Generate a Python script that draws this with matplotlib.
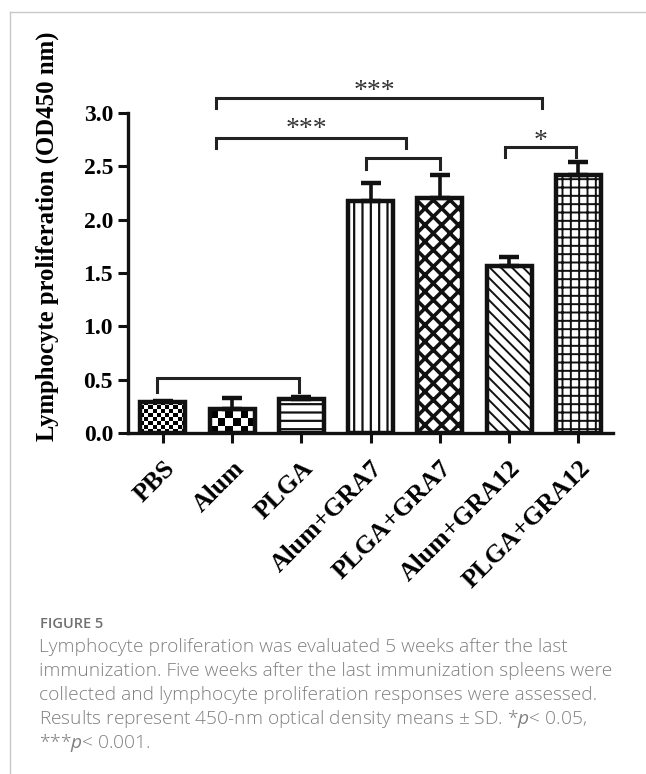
import numpy as np
import matplotlib
matplotlib.use("Agg")
import matplotlib.pyplot as plt
from matplotlib.lines import Line2D

groups = ["PBS", "Alum", "PLGA", "Alum+GRA7", "PLGA+GRA7", "Alum+GRA12", "PLGA+GRA12"]
means = [0.296, 0.227, 0.32, 2.173, 2.198, 1.568, 2.416]
sd = [0.01, 0.10, 0.02, 0.172, 0.222, 0.078, 0.119]
patterns = ["fine_checker", "checker", "--", "||", "xx", "\\\\\\", "++"]

# significance brackets: (x_left, x_right, y, leg_bottom)
brackets = [
    (-0.08, 1.96, 0.515, 0.389),
    (2.94, 4.0, 2.573, 2.473),
    (4.94, 5.96, 2.682, 2.588),
    (0.76, 3.51, 2.760, 2.667),
    (0.76, 5.48, 3.134, 3.041),
]
stars = [(3.06, 3.14, "***"), (2.07, 2.78, "***"), (5.45, 2.67, "*")]

caption_title = "FIGURE 5"
caption_lines = [
    "Lymphocyte proliferation was evaluated 5 weeks after the last",
    "immunization. Five weeks after the last immunization spleens were",
    "collected and lymphocyte proliferation responses were assessed.",
    "Results represent 450-nm optical density means \u00b1 SD. *$\\it{p}$< 0.05,",
    "***$\\it{p}$< 0.001.",
]

plt.rcParams["mathtext.fontset"] = "custom"
plt.rcParams["mathtext.rm"] = "Open Sans"
plt.rcParams["mathtext.it"] = "Open Sans:italic"

W, H = 646, 774
fig = plt.figure(figsize=(W / 100, H / 100), dpi=100)
ax = fig.add_axes([128.3 / W, 1 - 433.3 / H, 484.7 / W, (433.3 - 112.7) / H])

x = np.arange(len(groups))
serif = "Liberation Serif"

hatch_lw = {"--": 1.6, "||": 1.6, "xx": 2.6, "\\\\\\": 1.4, "++": 1.4}
bars = ax.bar(x, means, width=0.65, color="white", edgecolor="#111111", linewidth=3.2, zorder=2)
for b, pat in zip(bars, patterns):
    if pat in hatch_lw:
        b.set_hatch(pat)
        try:
            b.set_hatch_linewidth(hatch_lw[pat])
        except AttributeError:
            plt.rcParams["hatch.linewidth"] = 1.6
    else:
        # checkerboard fill clipped to the bar
        b.set_facecolor("none")
        cw, ch = (0.058, 0.037) if pat == "fine_checker" else (0.105, 0.068)
        bx, bw, bh = b.get_x(), b.get_width(), b.get_height()
        nx = max(int(round(bw / cw)), 1)
        ny = max(int(np.ceil(bh / ch)), 1)
        ii, jj = np.indices((ny, nx))
        board = (ii + jj) % 2
        im = ax.imshow(board, cmap="gray", interpolation="nearest", aspect="auto",
                       extent=(bx, bx + bw, 0, ny * ch), origin="lower", zorder=1.5)
        im.set_clip_path(b)

ax.errorbar(x, means, yerr=[np.zeros(len(sd)), sd], fmt="none", ecolor="#111111",
            elinewidth=2.6, capsize=7.5, capthick=3.2, zorder=3)

for x0, x1, y, yl in brackets:
    ax.plot([x0, x0, x1, x1], [yl, y, y, yl], color="#222222", lw=2.2,
            solid_joinstyle="miter", clip_on=False, zorder=4)
for sx, sy, s in stars:
    ax.text(sx, sy, s, ha="center", va="baseline", fontsize=20, family=serif,
            color="#333333", clip_on=False)

ax.set_xlim(-0.5, 6.5)
ax.set_ylim(0, 3.0)
ax.set_yticks(np.arange(0, 3.01, 0.5))
ax.set_yticklabels([f"{v:.1f}" for v in np.arange(0, 3.01, 0.5)],
                   fontsize=17, fontweight="bold", family=serif)
ax.set_xticks(x)
ax.set_xticklabels(groups, rotation=45, ha="right", rotation_mode="anchor",
                   fontsize=18.5, fontweight="bold", family=serif)
ax.tick_params(axis="both", direction="out", width=2.2, length=7, color="#111111", pad=4)
ax.tick_params(axis="x", pad=10)
for side in ["top", "right"]:
    ax.spines[side].set_visible(False)
for side in ["left", "bottom"]:
    ax.spines[side].set_linewidth(2.4)
    ax.spines[side].set_color("#111111")

ax.set_ylabel("Lymphocyte proliferation (OD450 nm)", fontsize=17.8, fontweight="bold",
              family=serif)
ax.yaxis.set_label_coords((47 - 128.3) / 484.7, 0.615)
ax.yaxis.label.set_va("center")

# frame lines
fig.add_artist(Line2D([10 / W, 10 / W], [0, 1 - 11.7 / H], color="#c8c8c8", lw=1.0))
fig.add_artist(Line2D([10 / W, 1], [1 - 11.7 / H, 1 - 11.7 / H], color="#c8c8c8", lw=1.0))

fig.text(40 / W, 1 - 624.5 / H, caption_title, fontsize=10.5, family="Open Sans",
         fontweight="semibold", color="#707070", va="center")
for k, line in enumerate(caption_lines):
    fig.text(39 / W, 1 - (647 + 24 * k) / H, line, fontsize=13.8, family="Open Sans",
             fontweight="light", color="#808080", va="center")

fig.savefig("out.png", dpi=100)
